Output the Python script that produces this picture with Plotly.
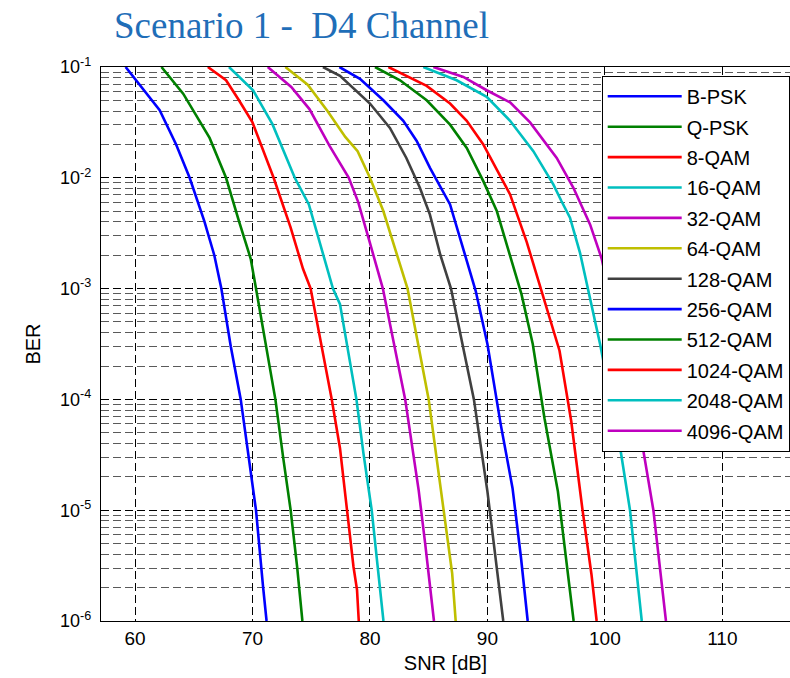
import plotly.graph_objects as go

# ---------------- data ----------------
LABELS = ["B-PSK", "Q-PSK", "8-QAM", "16-QAM", "32-QAM", "64-QAM", "128-QAM",
          "256-QAM", "512-QAM", "1024-QAM", "2048-QAM", "4096-QAM"]
COLORS = ["#0000FF", "#008000", "#FF0000", "#00BFBF", "#BF00BF", "#BFBF00", "#404040",
          "#0000FF", "#008000", "#FF0000", "#00BFBF", "#BF00BF"]

BPSK_SNR = [59.2, 62.1, 63.5, 64.65, 65.9, 66.75, 67.35, 68.15, 69.0, 69.95, 70.3, 70.9, 71.2]
BPSK_BER = [1.0e-1, 4.07e-2, 2.0e-2, 1.0e-2, 4.07e-3, 2.0e-3, 1.0e-3, 3.02e-4, 1.0e-4, 1.95e-5, 1.0e-5, 2.04e-6, 1.0e-6]

QPSK_SNR = [62.25, 64.1, 66.35, 67.05, 67.75, 68.85, 69.85, 70.3, 71.95, 72.62, 73.25, 73.8, 74.25]
QPSK_BER = [1.0e-1, 5.75e-2, 2.29e-2, 1.51e-2, 1.0e-2, 4.07e-3, 1.86e-3, 1.0e-3, 1.0e-4, 2.95e-5, 1.0e-5, 3.09e-6, 1.0e-6]

QAM8_SNR = [66.2, 67.75, 68.85, 70.0, 71.8, 73.25, 74.3, 74.95, 76.75, 77.45, 78.05, 78.6, 78.9, 79.0, 79.05]
QAM8_BER = [1.0e-1, 7.59e-2, 5.01e-2, 3.16e-2, 1.0e-2, 3.55e-3, 1.51e-3, 1.0e-3, 1.0e-4, 3.63e-5, 1.0e-5, 3.09e-6, 1.91e-6, 1.35e-6, 1.0e-6]

QAM16_SNR = [68.0, 70.05, 71.7, 73.6, 74.8, 75.9, 76.85, 77.45, 78.85, 79.45, 80.15, 80.65, 81.15]
QAM16_BER = [1.0e-1, 6.17e-2, 3.05e-2, 1.0e-2, 5.75e-3, 2.29e-3, 1.0e-3, 7.24e-4, 1.0e-4, 3.24e-5, 1.0e-5, 3.16e-6, 1.0e-6]

QAM32_SNR = [71.3, 73.3, 74.85, 76.55, 78.2, 79.0, 79.95, 81.1, 83.0, 84.15, 84.7, 85.45]
QAM32_BER = [1.0e-1, 6.61e-2, 4.17e-2, 1.95e-2, 1.0e-2, 6.03e-3, 2.69e-3, 1.0e-3, 1.0e-4, 1.51e-5, 5.01e-6, 1.0e-6]

QAM64_SNR = [72.8, 74.7, 76.4, 77.9, 78.95, 80.0, 81.14, 82.28, 83.2, 85.0, 86.14, 87.0, 87.3]
QAM64_BER = [1.0e-1, 6.92e-2, 3.98e-2, 2.34e-2, 1.74e-2, 1.0e-2, 5.01e-3, 2.09e-3, 1.0e-3, 1.0e-4, 1.32e-5, 2.69e-6, 1.0e-6]

QAM128_SNR = [76.0, 77.45, 80.0, 81.7, 83.1, 84.25, 85.1, 86.0, 86.9, 88.85, 90.0, 90.85, 91.35]
QAM128_BER = [1.0e-1, 8.32e-2, 4.68e-2, 2.82e-2, 1.51e-2, 8.13e-3, 4.68e-3, 2.0e-3, 1.0e-3, 1.0e-4, 1.48e-5, 2.63e-6, 1.0e-6]

QAM256_SNR = [77.4, 79.15, 81.14, 82.84, 83.98, 85.11, 86.82, 87.95, 88.66, 89.0, 90.0, 91.14, 92.14, 92.86, 93.43]
QAM256_BER = [1.0e-1, 7.83e-2, 5.01e-2, 3.27e-2, 2.15e-2, 1.23e-2, 5.75e-3, 2.29e-3, 1.23e-3, 9.55e-4, 3.16e-4, 5.89e-5, 1.58e-5, 3.72e-6, 1.0e-6]

QAM512_SNR = [80.43, 82.56, 84.83, 86.82, 88.24, 89.65, 90.8, 91.93, 92.9, 93.86, 94.86, 96.0, 97.0, 97.34]
QAM512_BER = [1.0e-1, 7.59e-2, 5.01e-2, 3.02e-2, 1.86e-2, 9.33e-3, 5.01e-3, 2.0e-3, 8.91e-4, 3.16e-4, 6.76e-5, 1.48e-5, 2.14e-6, 1.0e-6]

QAM1024_SNR = [81.57, 84.83, 86.82, 88.24, 89.65, 91.93, 93.35, 94.7, 96.14, 97.14, 98.1, 98.86, 99.3]
QAM1024_BER = [1.0e-1, 6.76e-2, 4.68e-2, 3.27e-2, 2.0e-2, 7.08e-3, 2.63e-3, 8.91e-4, 2.75e-4, 6.31e-5, 1.0e-5, 2.63e-6, 1.0e-6]

QAM2048_SNR = [84.54, 87.38, 89.94, 91.93, 93.91, 95.61, 96.3, 97.03, 97.89, 99.59, 101.29, 102.14, 103.14]
QAM2048_BER = [1.0e-1, 7.59e-2, 5.37e-2, 3.27e-2, 1.74e-2, 8.71e-3, 6.17e-3, 4.37e-3, 2.09e-3, 3.16e-4, 3.72e-5, 1.0e-5, 1.0e-6]

QAM4096_SNR = [85.4, 87.95, 89.94, 91.93, 93.63, 95.9, 97.32, 98.74, 99.73, 103.27, 104.13, 105.2]
QAM4096_BER = [1.0e-1, 8.13e-2, 6.17e-2, 4.79e-2, 3.16e-2, 1.51e-2, 8.13e-3, 3.80e-3, 1.86e-3, 3.47e-5, 1.0e-5, 1.0e-6]

SNR_SERIES = [BPSK_SNR, QPSK_SNR, QAM8_SNR, QAM16_SNR, QAM32_SNR, QAM64_SNR, QAM128_SNR,
              QAM256_SNR, QAM512_SNR, QAM1024_SNR, QAM2048_SNR, QAM4096_SNR]
BER_SERIES = [BPSK_BER, QPSK_BER, QAM8_BER, QAM16_BER, QAM32_BER, QAM64_BER, QAM128_BER,
              QAM256_BER, QAM512_BER, QAM1024_BER, QAM2048_BER, QAM4096_BER]

X_TICKS = [60, 70, 80, 90, 100, 110]
Y_TICKS = [1e-6, 1e-5, 1e-4, 1e-3, 1e-2, 1e-1]
Y_TICK_TEXT = ["10<sup>-6</sup>", "10<sup>-5</sup>", "10<sup>-4</sup>",
               "10<sup>-3</sup>", "10<sup>-2</sup>", "10<sup>-1</sup>"]

TITLE = "Scenario 1 - \u00a0D4 Channel"

# ---------------- figure ----------------
FONT = "Arial, Liberation Sans, sans-serif"
fig = go.Figure()
for i, (lab, col) in enumerate(zip(LABELS, COLORS)):
    fig.add_trace(go.Scatter(
        x=SNR_SERIES[i], y=BER_SERIES[i], mode="lines", name=lab,
        line=dict(color=col, width=2.6), legendgroup=lab,
    ))

DASH = "8px,4px"
fig.update_layout(
    width=790, height=678,
    margin=dict(l=101, r=0, t=67, b=57, autoexpand=False),
    paper_bgcolor="white", plot_bgcolor="white",
    font=dict(family=FONT, size=19, color="black"),
    title=dict(text=TITLE, x=301.5 / 790, xref="container", xanchor="center",
               y=1 - 25 / 678, yref="container", yanchor="middle",
               font=dict(family="Liberation Serif, Times New Roman, serif", size=37, color="#1F6EB8")),
    showlegend=True,
    legend=dict(x=(601.7 - 101) / 689, y=(620.7 - 75.5) / 554, xanchor="left", yanchor="top",
                bgcolor="white", bordercolor="black", borderwidth=1,
                font=dict(family=FONT, size=20, color="black"),
                tracegroupgap=1.4, itemwidth=74, traceorder="grouped"),
    xaxis=dict(range=[57.105, 115.76], tickvals=X_TICKS, ticks="", showline=True,
               linecolor="black", linewidth=1.3, mirror=True,
               showgrid=True, gridcolor="#000000", gridwidth=1, griddash=DASH,
               zeroline=False, tickfont=dict(size=19), automargin=False,
               title=dict(text="SNR [dB]", font=dict(size=20), standoff=8)),
    yaxis=dict(type="log", range=[-6, -1], tickvals=Y_TICKS, ticktext=Y_TICK_TEXT,
               ticks="", showline=True, linecolor="black", linewidth=1.3, mirror=True,
               showgrid=True, gridcolor="#000000", gridwidth=1, griddash=DASH,
               minor=dict(dtick="D1", showgrid=True, gridcolor="#5a5a5a", gridwidth=1,
                          griddash=DASH, ticks=""),
               zeroline=False, tickfont=dict(size=18), automargin=False,
               ticklabelstandoff=5,
               title=dict(text="BER", font=dict(size=20), standoff=14)),
)

fig.write_html("out.html", config={"displayModeBar": False},
               post_script="document.body.style.margin='0';document.body.style.overflow='hidden';")
